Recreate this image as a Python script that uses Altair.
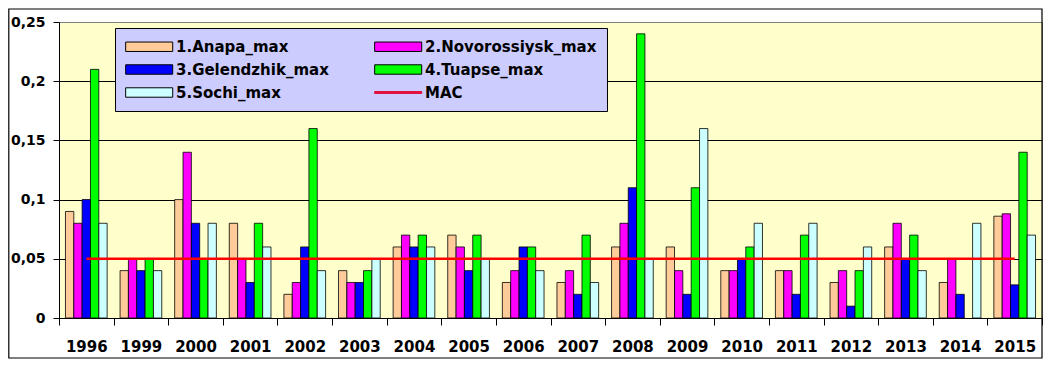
import altair as alt
import pandas as pd

years = ["1996", "1999", "2000", "2001", "2002", "2003", "2004", "2005", "2006",
         "2007", "2008", "2009", "2010", "2011", "2012", "2013", "2014", "2015"]
anapa = [0.09, 0.04, 0.10, 0.08, 0.02, 0.04, 0.06, 0.07, 0.03, 0.03, 0.06, 0.06, 0.04, 0.04, 0.03, 0.06, 0.03, 0.086]
novorossiysk = [0.08, 0.05, 0.14, 0.05, 0.03, 0.03, 0.07, 0.06, 0.04, 0.04, 0.08, 0.04, 0.04, 0.04, 0.04, 0.08, 0.05, 0.088]
gelendzhik = [0.10, 0.04, 0.08, 0.03, 0.06, 0.03, 0.06, 0.04, 0.06, 0.02, 0.11, 0.02, 0.05, 0.02, 0.01, 0.05, 0.02, 0.028]
tuapse = [0.21, 0.05, 0.05, 0.08, 0.16, 0.04, 0.07, 0.07, 0.06, 0.07, 0.24, 0.11, 0.06, 0.07, 0.04, 0.07, None, 0.14]
sochi = [0.08, 0.04, 0.08, 0.06, 0.04, 0.05, 0.06, 0.05, 0.04, 0.03, 0.05, 0.16, 0.08, 0.08, 0.06, 0.04, 0.08, 0.07]
mac = [0.05, 0.05, 0.05, 0.05, 0.05, 0.05, 0.05, 0.05, 0.05, 0.05, 0.05, 0.05, 0.05, 0.05, 0.05, 0.05, 0.05, 0.05]

series_names = ["1.Anapa_max", "2.Novorossiysk_max", "3.Gelendzhik_max", "4.Tuapse_max", "5.Sochi_max"]
mac_name = "MAC"
bar_colors = ["#FFCC99", "#FF00FF", "#0000FF", "#00FF00", "#CCFFFF"]
mac_color = "#FF0000"
mac_legend_color = "#E0103C"
y_ticks = [0, 0.05, 0.1, 0.15, 0.2, 0.25]

series_values = [anapa, novorossiysk, gelendzhik, tuapse, sochi]
rows = []
for name, vals in zip(series_names, series_values):
    for yr, v in zip(years, vals):
        if v is not None:
            rows.append({"year": yr, "series": name, "value": v})
bars_df = pd.DataFrame(rows)
mac_df = pd.DataFrame({"year": years, "series": mac_name, "value": mac})
legend_df = pd.concat([bars_df, mac_df], ignore_index=True)

W, H = 983, 296
PAD_L = 51
FONT = "DejaVu Sans"

x_enc = alt.X(
    "year:N", sort=years,
    scale=alt.Scale(paddingInner=0, paddingOuter=0),
    axis=alt.Axis(title=None, labelAngle=0, tickBand="extent", grid=False,
                  tickSize=7, tickColor="black", domainColor="black",
                  labelFont=FONT, labelFontSize=15, labelFontWeight="bold",
                  labelColor="black", labelPadding=14),
)
y_enc = alt.Y(
    "value:Q",
    scale=alt.Scale(domain=[0, 0.25], nice=False),
    axis=alt.Axis(title=None, values=y_ticks,
                  labelExpr="replace('' + datum.value, '.', ',')",
                  tickSize=6, tickColor="black", domainColor="black",
                  grid=True,
                  gridColor=alt.condition("datum.value >= 0.24", alt.value("#808080"), alt.value("black")),
                  gridWidth=1,
                  labelFont=FONT, labelFontSize=14, labelFontWeight="bold",
                  labelColor="black", labelPadding=8),
)

domain = series_names + [mac_name]
# legend symbols: wide rectangles drawn off-centre so the entry height stays small
rect_path = "M-1,-0.6H5V0.6H-1Z"
line_path = "M-1,-0.12H5V0.12H-1Z"
legend = alt.Legend(
    title=None, orient="none", legendX=56, legendY=6, columns=2, direction="horizontal",
    padding=10, fillColor="#CCCCFF", strokeColor="black",
    symbolSize=246, symbolStrokeWidth=1, symbolOpacity=1,
    labelFont=FONT, labelFontSize=15, labelFontWeight="bold", labelColor="black",
    labelLimit=300, labelOffset=34, rowPadding=6, columnPadding=43,
)

frame = alt.Chart(alt.Data(values=[{"k": 1}])).mark_rect(
    fillOpacity=0, stroke="black", strokeWidth=1.2
).encode(
    x=alt.value(-PAD_L + 0.8), x2=alt.value(W), y=alt.value(-13), y2=alt.value(H + 40)
)

bars = alt.Chart(bars_df).mark_bar(stroke="black", strokeWidth=0.8).encode(
    x=x_enc,
    xOffset=alt.XOffset("series:N", sort=series_names,
                        scale=alt.Scale(domain=series_names, paddingInner=0, paddingOuter=0.775)),
    y=y_enc,
    color=alt.Color("series:N", scale=alt.Scale(domain=series_names, range=bar_colors), legend=None),
)

line = alt.Chart(mac_df).mark_line(color=mac_color, strokeWidth=2.5).encode(
    x=x_enc, y=y_enc,
)

legend_layer = alt.Chart(legend_df).transform_filter("datum.value < 0").mark_point(
    filled=True, opacity=1, size=10
).encode(
    x=x_enc, y=y_enc,
    fill=alt.Fill("series:N", scale=alt.Scale(domain=domain, range=bar_colors + [mac_legend_color]), legend=legend),
    stroke=alt.Stroke("series:N", scale=alt.Scale(domain=domain, range=["black"] * 5 + [mac_legend_color]), legend=legend),
    shape=alt.Shape("series:N", scale=alt.Scale(domain=domain, range=[rect_path] * 5 + [line_path]), legend=legend),
)

chart = alt.layer(frame, bars, line, legend_layer).properties(
    width=W, height=H,
    autosize=alt.AutoSizeParams(type="none"),
    padding={"left": PAD_L, "top": 14, "right": 4, "bottom": 42},
    background="white",
).configure_view(
    fill="#FFFFCC", stroke="#808080", strokeWidth=1
)

chart.save("out.html", embed_options={"renderer": "svg", "actions": False})
